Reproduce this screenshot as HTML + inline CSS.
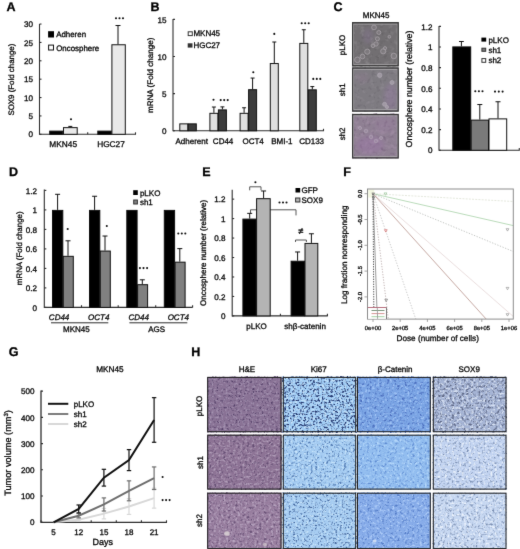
<!DOCTYPE html>
<html><head><meta charset="utf-8"><title>Figure</title>
<style>
html,body{margin:0;padding:0;background:#fff;}
body{width:520px;height:549px;overflow:hidden;}
svg{display:block;font-family:"Liberation Sans", sans-serif;}
#wrap{width:520px;height:549px;will-change:transform;}
svg text{stroke:#000;stroke-width:0.3px;text-rendering:geometricPrecision;}
</style></head>
<body>
<div id="wrap">
<svg width="520" height="549" viewBox="0 0 520 549">
<defs><filter id="soft" x="0" y="0" width="100%" height="100%" color-interpolation-filters="sRGB"><feConvolveMatrix order="3" kernelMatrix="1 10 1 10 100 10 1 10 1" edgeMode="duplicate"/></filter><clipPath id="fclip"><rect x="367.5" y="189" width="145.8" height="130.1"/></clipPath><filter id="blur2" x="-50%" y="-50%" width="200%" height="200%"><feGaussianBlur stdDeviation="2.5"/></filter><filter id="blur05" x="-10%" y="-10%" width="120%" height="120%"><feGaussianBlur stdDeviation="0.6"/></filter><filter id="h00d" x="0" y="0" width="100%" height="100%" color-interpolation-filters="sRGB"><feTurbulence type="fractalNoise" baseFrequency="0.42" numOctaves="3" seed="3"/><feColorMatrix type="matrix" values="0 0 0 0 0.333 0 0 0 0 0.255 0 0 0 0 0.412 4.0 0 0 0 -2.2"/></filter><filter id="h00l" x="0" y="0" width="100%" height="100%" color-interpolation-filters="sRGB"><feTurbulence type="fractalNoise" baseFrequency="0.42" numOctaves="2" seed="53"/><feColorMatrix type="matrix" values="0 0 0 0 0.647 0 0 0 0 0.580 0 0 0 0 0.698 3.0 0 0 0 -1.45"/></filter><filter id="h01d" x="0" y="0" width="100%" height="100%" color-interpolation-filters="sRGB"><feTurbulence type="fractalNoise" baseFrequency="0.42" numOctaves="3" seed="14"/><feColorMatrix type="matrix" values="0 0 0 0 0.392 0 0 0 0 0.306 0 0 0 0 0.451 4.0 0 0 0 -2.15"/></filter><filter id="h01l" x="0" y="0" width="100%" height="100%" color-interpolation-filters="sRGB"><feTurbulence type="fractalNoise" baseFrequency="0.42" numOctaves="2" seed="64"/><feColorMatrix type="matrix" values="0 0 0 0 0.698 0 0 0 0 0.627 0 0 0 0 0.729 3.0 0 0 0 -1.45"/></filter><filter id="h02d" x="0" y="0" width="100%" height="100%" color-interpolation-filters="sRGB"><feTurbulence type="fractalNoise" baseFrequency="0.42" numOctaves="3" seed="25"/><feColorMatrix type="matrix" values="0 0 0 0 0.424 0 0 0 0 0.333 0 0 0 0 0.478 4.0 0 0 0 -2.15"/></filter><filter id="h02l" x="0" y="0" width="100%" height="100%" color-interpolation-filters="sRGB"><feTurbulence type="fractalNoise" baseFrequency="0.42" numOctaves="2" seed="75"/><feColorMatrix type="matrix" values="0 0 0 0 0.729 0 0 0 0 0.659 0 0 0 0 0.761 3.0 0 0 0 -1.45"/></filter><filter id="h10d" x="0" y="0" width="100%" height="100%" color-interpolation-filters="sRGB"><feTurbulence type="fractalNoise" baseFrequency="0.45" numOctaves="3" seed="5"/><feColorMatrix type="matrix" values="0 0 0 0 0.157 0 0 0 0 0.235 0 0 0 0 0.451 4.5 0 0 0 -2.15"/></filter><filter id="h10l" x="0" y="0" width="100%" height="100%" color-interpolation-filters="sRGB"><feTurbulence type="fractalNoise" baseFrequency="0.45" numOctaves="2" seed="55"/><feColorMatrix type="matrix" values="0 0 0 0 0.784 0 0 0 0 0.894 0 0 0 0 0.980 4.0 0 0 0 -2.0"/></filter><filter id="h11d" x="0" y="0" width="100%" height="100%" color-interpolation-filters="sRGB"><feTurbulence type="fractalNoise" baseFrequency="0.45" numOctaves="3" seed="16"/><feColorMatrix type="matrix" values="0 0 0 0 0.333 0 0 0 0 0.490 0 0 0 0 0.706 4.0 0 0 0 -2.1"/></filter><filter id="h11l" x="0" y="0" width="100%" height="100%" color-interpolation-filters="sRGB"><feTurbulence type="fractalNoise" baseFrequency="0.45" numOctaves="2" seed="66"/><feColorMatrix type="matrix" values="0 0 0 0 0.784 0 0 0 0 0.894 0 0 0 0 0.980 4.0 0 0 0 -2.1"/></filter><filter id="h12d" x="0" y="0" width="100%" height="100%" color-interpolation-filters="sRGB"><feTurbulence type="fractalNoise" baseFrequency="0.45" numOctaves="3" seed="27"/><feColorMatrix type="matrix" values="0 0 0 0 0.275 0 0 0 0 0.412 0 0 0 0 0.627 4.0 0 0 0 -2.1"/></filter><filter id="h12l" x="0" y="0" width="100%" height="100%" color-interpolation-filters="sRGB"><feTurbulence type="fractalNoise" baseFrequency="0.45" numOctaves="2" seed="77"/><feColorMatrix type="matrix" values="0 0 0 0 0.784 0 0 0 0 0.894 0 0 0 0 0.980 4.0 0 0 0 -2.1"/></filter><filter id="h20d" x="0" y="0" width="100%" height="100%" color-interpolation-filters="sRGB"><feTurbulence type="fractalNoise" baseFrequency="0.4" numOctaves="3" seed="7"/><feColorMatrix type="matrix" values="0 0 0 0 0.294 0 0 0 0 0.431 0 0 0 0 0.745 4.0 0 0 0 -2.1"/></filter><filter id="h20l" x="0" y="0" width="100%" height="100%" color-interpolation-filters="sRGB"><feTurbulence type="fractalNoise" baseFrequency="0.4" numOctaves="2" seed="57"/><feColorMatrix type="matrix" values="0 0 0 0 0.627 0 0 0 0 0.765 0 0 0 0 0.961 4.0 0 0 0 -2.1"/></filter><filter id="h21d" x="0" y="0" width="100%" height="100%" color-interpolation-filters="sRGB"><feTurbulence type="fractalNoise" baseFrequency="0.4" numOctaves="3" seed="18"/><feColorMatrix type="matrix" values="0 0 0 0 0.373 0 0 0 0 0.549 0 0 0 0 0.824 4.0 0 0 0 -2.15"/></filter><filter id="h21l" x="0" y="0" width="100%" height="100%" color-interpolation-filters="sRGB"><feTurbulence type="fractalNoise" baseFrequency="0.4" numOctaves="2" seed="68"/><feColorMatrix type="matrix" values="0 0 0 0 0.706 0 0 0 0 0.843 0 0 0 0 0.980 4.0 0 0 0 -2.1"/></filter><filter id="h22d" x="0" y="0" width="100%" height="100%" color-interpolation-filters="sRGB"><feTurbulence type="fractalNoise" baseFrequency="0.4" numOctaves="3" seed="29"/><feColorMatrix type="matrix" values="0 0 0 0 0.333 0 0 0 0 0.490 0 0 0 0 0.784 4.0 0 0 0 -2.15"/></filter><filter id="h22l" x="0" y="0" width="100%" height="100%" color-interpolation-filters="sRGB"><feTurbulence type="fractalNoise" baseFrequency="0.4" numOctaves="2" seed="79"/><feColorMatrix type="matrix" values="0 0 0 0 0.686 0 0 0 0 0.804 0 0 0 0 0.973 4.0 0 0 0 -2.1"/></filter><filter id="h30d" x="0" y="0" width="100%" height="100%" color-interpolation-filters="sRGB"><feTurbulence type="fractalNoise" baseFrequency="0.42" numOctaves="3" seed="9"/><feColorMatrix type="matrix" values="0 0 0 0 0.373 0 0 0 0 0.412 0 0 0 0 0.529 4.0 0 0 0 -1.95"/></filter><filter id="h30l" x="0" y="0" width="100%" height="100%" color-interpolation-filters="sRGB"><feTurbulence type="fractalNoise" baseFrequency="0.42" numOctaves="2" seed="59"/><feColorMatrix type="matrix" values="0 0 0 0 0.843 0 0 0 0 0.882 0 0 0 0 0.949 4.0 0 0 0 -2.0"/></filter><filter id="h31d" x="0" y="0" width="100%" height="100%" color-interpolation-filters="sRGB"><feTurbulence type="fractalNoise" baseFrequency="0.42" numOctaves="3" seed="20"/><feColorMatrix type="matrix" values="0 0 0 0 0.490 0 0 0 0 0.569 0 0 0 0 0.706 4.0 0 0 0 -2.1"/></filter><filter id="h31l" x="0" y="0" width="100%" height="100%" color-interpolation-filters="sRGB"><feTurbulence type="fractalNoise" baseFrequency="0.42" numOctaves="2" seed="70"/><feColorMatrix type="matrix" values="0 0 0 0 0.910 0 0 0 0 0.941 0 0 0 0 0.980 4.0 0 0 0 -2.1"/></filter><filter id="h32d" x="0" y="0" width="100%" height="100%" color-interpolation-filters="sRGB"><feTurbulence type="fractalNoise" baseFrequency="0.42" numOctaves="3" seed="31"/><feColorMatrix type="matrix" values="0 0 0 0 0.490 0 0 0 0 0.569 0 0 0 0 0.706 4.0 0 0 0 -2.1"/></filter><filter id="h32l" x="0" y="0" width="100%" height="100%" color-interpolation-filters="sRGB"><feTurbulence type="fractalNoise" baseFrequency="0.42" numOctaves="2" seed="81"/><feColorMatrix type="matrix" values="0 0 0 0 0.922 0 0 0 0 0.949 0 0 0 0 0.988 4.0 0 0 0 -2.1"/></filter><filter id="c1" x="0" y="0" width="100%" height="100%" color-interpolation-filters="sRGB"><feTurbulence type="fractalNoise" baseFrequency="0.25" numOctaves="3" seed="20"/><feColorMatrix type="matrix" values="0 0 0 0 0.373 0 0 0 0 0.361 0 0 0 0 0.373 2.0 0 0 0 -1.1"/></filter><filter id="c1l" x="0" y="0" width="100%" height="100%" color-interpolation-filters="sRGB"><feTurbulence type="fractalNoise" baseFrequency="0.2" numOctaves="3" seed="40"/><feColorMatrix type="matrix" values="0 0 0 0 0.549 0 0 0 0 0.537 0 0 0 0 0.549 2.0 0 0 0 -1.1"/></filter><filter id="c2" x="0" y="0" width="100%" height="100%" color-interpolation-filters="sRGB"><feTurbulence type="fractalNoise" baseFrequency="0.25" numOctaves="3" seed="21"/><feColorMatrix type="matrix" values="0 0 0 0 0.392 0 0 0 0 0.376 0 0 0 0 0.408 2.0 0 0 0 -1.1"/></filter><filter id="c2l" x="0" y="0" width="100%" height="100%" color-interpolation-filters="sRGB"><feTurbulence type="fractalNoise" baseFrequency="0.2" numOctaves="3" seed="41"/><feColorMatrix type="matrix" values="0 0 0 0 0.569 0 0 0 0 0.549 0 0 0 0 0.580 2.0 0 0 0 -1.1"/></filter><filter id="c3" x="0" y="0" width="100%" height="100%" color-interpolation-filters="sRGB"><feTurbulence type="fractalNoise" baseFrequency="0.25" numOctaves="3" seed="22"/><feColorMatrix type="matrix" values="0 0 0 0 0.451 0 0 0 0 0.373 0 0 0 0 0.471 2.0 0 0 0 -1.05"/></filter><filter id="c3l" x="0" y="0" width="100%" height="100%" color-interpolation-filters="sRGB"><feTurbulence type="fractalNoise" baseFrequency="0.2" numOctaves="3" seed="42"/><feColorMatrix type="matrix" values="0 0 0 0 0.647 0 0 0 0 0.569 0 0 0 0 0.659 2.0 0 0 0 -1.05"/></filter></defs>
<g filter="url(#soft)">
<rect width="520" height="549" fill="#fff"/>
<text x="6.50" y="10.80" font-size="12.5" text-anchor="start" fill="#000" font-weight="bold">A</text>
<line x1="39.50" y1="24.00" x2="39.50" y2="134.80" stroke="#2e2e2e" stroke-width="1.1"/>
<line x1="39.50" y1="134.30" x2="41.50" y2="134.30" stroke="#2e2e2e" stroke-width="1.1"/>
<text x="33.00" y="137.49" font-size="8.1" text-anchor="end" fill="#111">0</text>
<line x1="39.50" y1="115.93" x2="41.50" y2="115.93" stroke="#2e2e2e" stroke-width="1.1"/>
<text x="33.00" y="119.11" font-size="8.1" text-anchor="end" fill="#111">5</text>
<line x1="39.50" y1="97.55" x2="41.50" y2="97.55" stroke="#2e2e2e" stroke-width="1.1"/>
<text x="33.00" y="100.74" font-size="8.1" text-anchor="end" fill="#111">10</text>
<line x1="39.50" y1="79.18" x2="41.50" y2="79.18" stroke="#2e2e2e" stroke-width="1.1"/>
<text x="33.00" y="82.36" font-size="8.1" text-anchor="end" fill="#111">15</text>
<line x1="39.50" y1="60.80" x2="41.50" y2="60.80" stroke="#2e2e2e" stroke-width="1.1"/>
<text x="33.00" y="63.99" font-size="8.1" text-anchor="end" fill="#111">20</text>
<line x1="39.50" y1="42.43" x2="41.50" y2="42.43" stroke="#2e2e2e" stroke-width="1.1"/>
<text x="33.00" y="45.61" font-size="8.1" text-anchor="end" fill="#111">25</text>
<line x1="39.50" y1="24.05" x2="41.50" y2="24.05" stroke="#2e2e2e" stroke-width="1.1"/>
<text x="33.00" y="27.24" font-size="8.1" text-anchor="end" fill="#111">30</text>
<line x1="39.50" y1="134.30" x2="136.00" y2="134.30" stroke="#2e2e2e" stroke-width="1.1"/>
<line x1="87.70" y1="134.30" x2="87.70" y2="132.30" stroke="#2e2e2e" stroke-width="1.1"/>
<line x1="135.50" y1="134.30" x2="135.50" y2="132.30" stroke="#2e2e2e" stroke-width="1.1"/>
<rect x="49.70" y="131.12" width="13.00" height="3.18" fill="#000" stroke="#111" stroke-width="1"/>
<rect x="63.50" y="127.63" width="13.70" height="6.67" fill="#e9e9e9" stroke="#111" stroke-width="1"/>
<line x1="70.30" y1="127.13" x2="70.30" y2="126.40" stroke="#111" stroke-width="1"/>
<line x1="68.30" y1="126.40" x2="72.30" y2="126.40" stroke="#111" stroke-width="1"/>
<rect x="97.80" y="131.12" width="13.50" height="3.18" fill="#000" stroke="#111" stroke-width="1"/>
<rect x="111.90" y="44.76" width="13.40" height="89.54" fill="#e9e9e9" stroke="#111" stroke-width="1"/>
<line x1="118.00" y1="44.26" x2="118.00" y2="25.52" stroke="#111" stroke-width="1"/>
<line x1="115.50" y1="25.52" x2="120.50" y2="25.52" stroke="#111" stroke-width="1"/>
<circle cx="71.00" cy="119.30" r="1.05" fill="#111"/>
<circle cx="116.00" cy="18.20" r="1.05" fill="#111"/>
<circle cx="119.50" cy="18.20" r="1.05" fill="#111"/>
<circle cx="123.00" cy="18.20" r="1.05" fill="#111"/>
<rect x="48.10" y="31.20" width="5.90" height="6.30" fill="#000"/>
<text x="56.20" y="37.32" font-size="7.9" text-anchor="start" fill="#111">Adheren</text>
<rect x="48.60" y="45.10" width="4.90" height="4.90" fill="#fff" stroke="#111" stroke-width="1"/>
<text x="56.20" y="50.52" font-size="7.9" text-anchor="start" fill="#111">Oncosphere</text>
<text x="63.20" y="146.66" font-size="8.3" text-anchor="middle" fill="#111">MKN45</text>
<text x="111.00" y="146.66" font-size="8.3" text-anchor="middle" fill="#111">HGC27</text>
<text transform="translate(13.52,79.60) rotate(-90)" font-size="7.9" text-anchor="middle" fill="#111">SOX9 (Fold change)</text>
<text x="150.60" y="10.65" font-size="12.5" text-anchor="start" fill="#000" font-weight="bold">B</text>
<line x1="173.00" y1="19.00" x2="173.00" y2="131.30" stroke="#2e2e2e" stroke-width="1.1"/>
<line x1="173.00" y1="130.80" x2="175.00" y2="130.80" stroke="#2e2e2e" stroke-width="1.1"/>
<text x="166.50" y="133.99" font-size="8.1" text-anchor="end" fill="#111">0</text>
<line x1="173.00" y1="93.65" x2="175.00" y2="93.65" stroke="#2e2e2e" stroke-width="1.1"/>
<text x="166.50" y="96.84" font-size="8.1" text-anchor="end" fill="#111">5</text>
<line x1="173.00" y1="56.50" x2="175.00" y2="56.50" stroke="#2e2e2e" stroke-width="1.1"/>
<text x="166.50" y="59.69" font-size="8.1" text-anchor="end" fill="#111">10</text>
<line x1="173.00" y1="19.35" x2="175.00" y2="19.35" stroke="#2e2e2e" stroke-width="1.1"/>
<text x="166.50" y="22.54" font-size="8.1" text-anchor="end" fill="#111">15</text>
<line x1="173.00" y1="130.80" x2="324.00" y2="130.80" stroke="#2e2e2e" stroke-width="1.1"/>
<line x1="323.50" y1="130.80" x2="323.50" y2="128.80" stroke="#2e2e2e" stroke-width="1.1"/>
<rect x="179.80" y="123.87" width="8.00" height="6.93" fill="#e0e0e0" stroke="#111" stroke-width="1"/>
<rect x="188.30" y="123.87" width="8.00" height="6.93" fill="#3c3c3c" stroke="#111" stroke-width="1"/>
<rect x="209.90" y="113.32" width="8.00" height="17.48" fill="#e0e0e0" stroke="#111" stroke-width="1"/>
<line x1="213.90" y1="112.82" x2="213.90" y2="107.02" stroke="#111" stroke-width="1"/>
<line x1="211.90" y1="107.02" x2="215.90" y2="107.02" stroke="#111" stroke-width="1"/>
<rect x="218.40" y="109.90" width="8.00" height="20.90" fill="#3c3c3c" stroke="#111" stroke-width="1"/>
<line x1="222.40" y1="109.40" x2="222.40" y2="106.88" stroke="#111" stroke-width="1"/>
<line x1="220.40" y1="106.88" x2="224.40" y2="106.88" stroke="#111" stroke-width="1"/>
<rect x="240.10" y="113.32" width="8.00" height="17.48" fill="#e0e0e0" stroke="#111" stroke-width="1"/>
<line x1="244.10" y1="112.82" x2="244.10" y2="107.77" stroke="#111" stroke-width="1"/>
<line x1="242.10" y1="107.77" x2="246.10" y2="107.77" stroke="#111" stroke-width="1"/>
<rect x="248.60" y="89.69" width="8.00" height="41.11" fill="#3c3c3c" stroke="#111" stroke-width="1"/>
<line x1="252.60" y1="89.19" x2="252.60" y2="78.05" stroke="#111" stroke-width="1"/>
<line x1="250.60" y1="78.05" x2="254.60" y2="78.05" stroke="#111" stroke-width="1"/>
<rect x="270.30" y="63.54" width="8.00" height="67.26" fill="#e0e0e0" stroke="#111" stroke-width="1"/>
<line x1="274.30" y1="63.04" x2="274.30" y2="42.01" stroke="#111" stroke-width="1"/>
<line x1="272.30" y1="42.01" x2="276.30" y2="42.01" stroke="#111" stroke-width="1"/>
<rect x="299.80" y="43.40" width="8.00" height="87.40" fill="#e0e0e0" stroke="#111" stroke-width="1"/>
<line x1="303.80" y1="42.90" x2="303.80" y2="29.75" stroke="#111" stroke-width="1"/>
<line x1="301.80" y1="29.75" x2="305.80" y2="29.75" stroke="#111" stroke-width="1"/>
<rect x="308.30" y="89.84" width="8.00" height="40.96" fill="#3c3c3c" stroke="#111" stroke-width="1"/>
<line x1="312.30" y1="89.34" x2="312.30" y2="86.59" stroke="#111" stroke-width="1"/>
<line x1="310.30" y1="86.59" x2="314.30" y2="86.59" stroke="#111" stroke-width="1"/>
<circle cx="213.50" cy="99.80" r="1.05" fill="#111"/>
<circle cx="220.70" cy="100.10" r="1.05" fill="#111"/>
<circle cx="224.20" cy="100.10" r="1.05" fill="#111"/>
<circle cx="227.70" cy="100.10" r="1.05" fill="#111"/>
<circle cx="253.30" cy="72.20" r="1.05" fill="#111"/>
<circle cx="274.30" cy="33.90" r="1.05" fill="#111"/>
<circle cx="301.70" cy="23.30" r="1.05" fill="#111"/>
<circle cx="305.20" cy="23.30" r="1.05" fill="#111"/>
<circle cx="308.70" cy="23.30" r="1.05" fill="#111"/>
<circle cx="313.30" cy="78.90" r="1.05" fill="#111"/>
<circle cx="316.80" cy="78.90" r="1.05" fill="#111"/>
<circle cx="320.30" cy="78.90" r="1.05" fill="#111"/>
<rect x="188.20" y="31.80" width="4.10" height="3.80" fill="#fff" stroke="#333" stroke-width="1"/>
<text x="193.40" y="36.45" font-size="8" text-anchor="start" fill="#111">MKN45</text>
<rect x="187.70" y="43.30" width="4.80" height="4.30" fill="#333"/>
<text x="193.40" y="48.15" font-size="8" text-anchor="start" fill="#111">HGC27</text>
<text x="191.70" y="143.75" font-size="8" text-anchor="middle" fill="#111">Adherent</text>
<text x="223.10" y="143.75" font-size="8" text-anchor="middle" fill="#111">CD44</text>
<text x="253.10" y="143.75" font-size="8" text-anchor="middle" fill="#111">OCT4</text>
<text x="281.90" y="143.75" font-size="8" text-anchor="middle" fill="#111">BMI-1</text>
<text x="311.60" y="143.75" font-size="8" text-anchor="middle" fill="#111">CD133</text>
<text transform="translate(152.69,75.30) rotate(-90)" font-size="8.1" text-anchor="middle" fill="#111">mRNA (Fold change)</text>
<text x="333.50" y="10.90" font-size="12.5" text-anchor="start" fill="#000" font-weight="bold">C</text>
<text x="376.20" y="17.75" font-size="8" text-anchor="middle" fill="#111">MKN45</text>
<rect x="352.10" y="22.10" width="46.60" height="44.20" fill="#726f72"/>
<rect x="352.1" y="22.1" width="46.6" height="44.20" filter="url(#c1)"/>
<rect x="352.1" y="22.1" width="46.6" height="44.20" filter="url(#c1l)"/>
<rect x="352.10" y="67.40" width="46.60" height="44.20" fill="#7e7b81"/>
<rect x="352.1" y="67.4" width="46.6" height="44.20" filter="url(#c2)"/>
<rect x="352.1" y="67.4" width="46.6" height="44.20" filter="url(#c2l)"/>
<rect x="352.10" y="113.90" width="46.60" height="44.50" fill="#8f8093"/>
<rect x="352.1" y="113.9" width="46.6" height="44.50" filter="url(#c3)"/>
<rect x="352.1" y="113.9" width="46.6" height="44.50" filter="url(#c3l)"/>
<ellipse cx="368" cy="36" rx="5" ry="8" fill="#9a7fb0" opacity="0.25" filter="url(#blur2)"/>
<ellipse cx="391" cy="97" rx="7" ry="14" fill="#a07fb0" opacity="0.35" filter="url(#blur2)"/>
<ellipse cx="362" cy="78" rx="7" ry="5" fill="#9a7a9a" opacity="0.25" filter="url(#blur2)"/>
<ellipse cx="370" cy="145" rx="14" ry="9" fill="#a070b0" opacity="0.3" filter="url(#blur2)"/>
<ellipse cx="385" cy="125" rx="10" ry="8" fill="#a080a8" opacity="0.25" filter="url(#blur2)"/>
<g filter="url(#blur05)">
<circle cx="374.0" cy="27.4" r="2.4" fill="#9a969a" fill-opacity="0.3" stroke="#a29ca2" stroke-width="0.9"/>
<circle cx="378.8" cy="32.5" r="2.0" fill="#9a969a" fill-opacity="0.3" stroke="#a29ca2" stroke-width="0.9"/>
<circle cx="377.4" cy="38.8" r="2.0" fill="#9a969a" fill-opacity="0.3" stroke="#a29ca2" stroke-width="0.9"/>
<circle cx="376.0" cy="44.0" r="2.2" fill="#9a969a" fill-opacity="0.3" stroke="#a29ca2" stroke-width="0.9"/>
<circle cx="373.0" cy="45.8" r="1.8" fill="#9a969a" fill-opacity="0.3" stroke="#a29ca2" stroke-width="0.9"/>
<circle cx="367.3" cy="51.7" r="2.6" fill="#9a969a" fill-opacity="0.3" stroke="#a29ca2" stroke-width="0.9"/>
<circle cx="362.5" cy="56.5" r="2.3" fill="#9a969a" fill-opacity="0.3" stroke="#a29ca2" stroke-width="0.9"/>
<circle cx="357.4" cy="59.8" r="2.8" fill="#9a969a" fill-opacity="0.3" stroke="#a29ca2" stroke-width="0.9"/>
<circle cx="383.2" cy="51.3" r="2.6" fill="#9a969a" fill-opacity="0.3" stroke="#a29ca2" stroke-width="0.9"/>
<circle cx="389.4" cy="36.8" r="1.4" fill="#9a969a" fill-opacity="0.3" stroke="#a29ca2" stroke-width="0.9"/>
<circle cx="393.8" cy="56.0" r="2.8" fill="#9a969a" fill-opacity="0.3" stroke="#a29ca2" stroke-width="0.9"/>
<circle cx="385.0" cy="48.2" r="1.6" fill="#9a969a" fill-opacity="0.3" stroke="#a29ca2" stroke-width="0.9"/>
<circle cx="379.8" cy="75.3" r="2.2" fill="#b4aeb8" fill-opacity="0.6" stroke="#aca4b0" stroke-width="0.8"/>
<circle cx="392.0" cy="82.5" r="2.0" fill="#b4aeb8" fill-opacity="0.6" stroke="#aca4b0" stroke-width="0.8"/>
<circle cx="384.6" cy="104.3" r="2.0" fill="#b4aeb8" fill-opacity="0.6" stroke="#aca4b0" stroke-width="0.8"/>
<circle cx="387.0" cy="107.0" r="1.6" fill="#b4aeb8" fill-opacity="0.6" stroke="#aca4b0" stroke-width="0.8"/>
<circle cx="366" cy="131" r="1.8" fill="#b0a0b4" fill-opacity="0.4" stroke="#b0a2b4" stroke-width="0.7"/>
<circle cx="371" cy="137" r="1.8" fill="#b0a0b4" fill-opacity="0.4" stroke="#b0a2b4" stroke-width="0.7"/>
<circle cx="376" cy="141" r="1.8" fill="#b0a0b4" fill-opacity="0.4" stroke="#b0a2b4" stroke-width="0.7"/>
<circle cx="360" cy="128" r="1.6" fill="#b0a0b4" fill-opacity="0.4" stroke="#b0a2b4" stroke-width="0.7"/>
<circle cx="381" cy="138" r="1.5" fill="#b0a0b4" fill-opacity="0.4" stroke="#b0a2b4" stroke-width="0.7"/>
</g>
<rect x="353.60" y="24.10" width="43.60" height="40.20" fill="none" stroke="#b0aeb0" stroke-width="0.7"/>
<rect x="352.60" y="22.70" width="45.60" height="43.10" fill="none" stroke="#383838" stroke-width="1.2"/>
<rect x="353.60" y="69.40" width="43.60" height="40.20" fill="none" stroke="#b0aeb0" stroke-width="0.7"/>
<rect x="352.60" y="68.00" width="45.60" height="43.10" fill="none" stroke="#383838" stroke-width="1.2"/>
<rect x="353.60" y="115.90" width="43.60" height="40.50" fill="none" stroke="#b0aeb0" stroke-width="0.7"/>
<rect x="352.60" y="114.50" width="45.60" height="43.40" fill="none" stroke="#383838" stroke-width="1.2"/>
<text transform="translate(345.15,45.00) rotate(-90)" font-size="8" text-anchor="middle" fill="#111">pLKO</text>
<text transform="translate(344.95,89.80) rotate(-90)" font-size="8" text-anchor="middle" fill="#111">sh1</text>
<text transform="translate(345.15,133.90) rotate(-90)" font-size="8" text-anchor="middle" fill="#111">sh2</text>
<line x1="439.00" y1="26.00" x2="439.00" y2="150.80" stroke="#2e2e2e" stroke-width="1.1"/>
<line x1="439.00" y1="150.30" x2="441.00" y2="150.30" stroke="#2e2e2e" stroke-width="1.1"/>
<text x="432.50" y="153.49" font-size="8.1" text-anchor="end" fill="#111">0</text>
<line x1="439.00" y1="129.64" x2="441.00" y2="129.64" stroke="#2e2e2e" stroke-width="1.1"/>
<text x="432.50" y="132.83" font-size="8.1" text-anchor="end" fill="#111">0.2</text>
<line x1="439.00" y1="108.98" x2="441.00" y2="108.98" stroke="#2e2e2e" stroke-width="1.1"/>
<text x="432.50" y="112.17" font-size="8.1" text-anchor="end" fill="#111">0.4</text>
<line x1="439.00" y1="88.32" x2="441.00" y2="88.32" stroke="#2e2e2e" stroke-width="1.1"/>
<text x="432.50" y="91.51" font-size="8.1" text-anchor="end" fill="#111">0.6</text>
<line x1="439.00" y1="67.66" x2="441.00" y2="67.66" stroke="#2e2e2e" stroke-width="1.1"/>
<text x="432.50" y="70.85" font-size="8.1" text-anchor="end" fill="#111">0.8</text>
<line x1="439.00" y1="47.00" x2="441.00" y2="47.00" stroke="#2e2e2e" stroke-width="1.1"/>
<text x="432.50" y="50.19" font-size="8.1" text-anchor="end" fill="#111">1</text>
<line x1="439.00" y1="26.34" x2="441.00" y2="26.34" stroke="#2e2e2e" stroke-width="1.1"/>
<text x="432.50" y="29.53" font-size="8.1" text-anchor="end" fill="#111">1.2</text>
<line x1="439.00" y1="150.30" x2="519.80" y2="150.30" stroke="#2e2e2e" stroke-width="1.1"/>
<line x1="519.30" y1="150.30" x2="519.30" y2="148.10" stroke="#2e2e2e" stroke-width="1.1"/>
<rect x="452.80" y="46.90" width="17.90" height="103.40" fill="#000" stroke="#111" stroke-width="1"/>
<line x1="461.40" y1="46.40" x2="461.40" y2="41.50" stroke="#111" stroke-width="1"/>
<line x1="459.00" y1="41.50" x2="463.80" y2="41.50" stroke="#111" stroke-width="1"/>
<rect x="471.20" y="120.12" width="17.30" height="30.18" fill="#7a7a7a" stroke="#111" stroke-width="1"/>
<line x1="479.80" y1="119.62" x2="479.80" y2="104.54" stroke="#111" stroke-width="1"/>
<line x1="477.30" y1="104.54" x2="482.30" y2="104.54" stroke="#111" stroke-width="1"/>
<rect x="489.00" y="118.88" width="17.70" height="31.42" fill="#fff" stroke="#111" stroke-width="1"/>
<line x1="498.00" y1="118.38" x2="498.00" y2="101.75" stroke="#111" stroke-width="1"/>
<line x1="495.50" y1="101.75" x2="500.50" y2="101.75" stroke="#111" stroke-width="1"/>
<circle cx="475.30" cy="91.30" r="1.05" fill="#111"/>
<circle cx="478.90" cy="91.30" r="1.05" fill="#111"/>
<circle cx="482.50" cy="91.30" r="1.05" fill="#111"/>
<circle cx="495.00" cy="91.60" r="1.05" fill="#111"/>
<circle cx="498.80" cy="91.60" r="1.05" fill="#111"/>
<circle cx="502.60" cy="91.60" r="1.05" fill="#111"/>
<rect x="481.40" y="37.60" width="4.80" height="4.00" fill="#000"/>
<text x="488.40" y="42.55" font-size="8" text-anchor="start" fill="#111">pLKO</text>
<rect x="481.90" y="48.20" width="3.80" height="3.10" fill="#7a7a7a" stroke="#333" stroke-width="1"/>
<text x="488.40" y="52.55" font-size="8" text-anchor="start" fill="#111">sh1</text>
<rect x="481.90" y="58.60" width="3.80" height="3.70" fill="#fff" stroke="#333" stroke-width="1"/>
<text x="488.40" y="62.85" font-size="8" text-anchor="start" fill="#111">sh2</text>
<text transform="translate(411.83,89.00) rotate(-90)" font-size="8.8" text-anchor="middle" fill="#111">Oncosphere number (relative)</text>
<text x="8.90" y="176.20" font-size="12.5" text-anchor="start" fill="#000" font-weight="bold">D</text>
<line x1="44.30" y1="189.50" x2="44.30" y2="307.90" stroke="#2e2e2e" stroke-width="1.1"/>
<line x1="44.30" y1="307.40" x2="46.30" y2="307.40" stroke="#2e2e2e" stroke-width="1.1"/>
<text x="37.00" y="310.59" font-size="8.1" text-anchor="end" fill="#111">0</text>
<line x1="44.30" y1="287.90" x2="46.30" y2="287.90" stroke="#2e2e2e" stroke-width="1.1"/>
<text x="37.00" y="291.09" font-size="8.1" text-anchor="end" fill="#111">0.2</text>
<line x1="44.30" y1="268.40" x2="46.30" y2="268.40" stroke="#2e2e2e" stroke-width="1.1"/>
<text x="37.00" y="271.59" font-size="8.1" text-anchor="end" fill="#111">0.4</text>
<line x1="44.30" y1="248.90" x2="46.30" y2="248.90" stroke="#2e2e2e" stroke-width="1.1"/>
<text x="37.00" y="252.09" font-size="8.1" text-anchor="end" fill="#111">0.6</text>
<line x1="44.30" y1="229.40" x2="46.30" y2="229.40" stroke="#2e2e2e" stroke-width="1.1"/>
<text x="37.00" y="232.59" font-size="8.1" text-anchor="end" fill="#111">0.8</text>
<line x1="44.30" y1="209.90" x2="46.30" y2="209.90" stroke="#2e2e2e" stroke-width="1.1"/>
<text x="37.00" y="213.09" font-size="8.1" text-anchor="end" fill="#111">1</text>
<line x1="44.30" y1="190.40" x2="46.30" y2="190.40" stroke="#2e2e2e" stroke-width="1.1"/>
<text x="37.00" y="193.59" font-size="8.1" text-anchor="end" fill="#111">1.2</text>
<line x1="44.30" y1="307.40" x2="192.60" y2="307.40" stroke="#2e2e2e" stroke-width="1.1"/>
<line x1="192.60" y1="307.40" x2="192.60" y2="305.20" stroke="#2e2e2e" stroke-width="1.1"/>
<line x1="81.50" y1="307.40" x2="81.50" y2="305.20" stroke="#2e2e2e" stroke-width="1.1"/>
<line x1="118.20" y1="307.40" x2="118.20" y2="305.20" stroke="#2e2e2e" stroke-width="1.1"/>
<line x1="155.70" y1="307.40" x2="155.70" y2="305.20" stroke="#2e2e2e" stroke-width="1.1"/>
<rect x="52.50" y="210.40" width="10.30" height="97.00" fill="#000" stroke="#111" stroke-width="1"/>
<line x1="57.60" y1="209.90" x2="57.60" y2="194.30" stroke="#111" stroke-width="1"/>
<line x1="55.10" y1="194.30" x2="60.10" y2="194.30" stroke="#111" stroke-width="1"/>
<rect x="63.30" y="256.32" width="10.00" height="51.08" fill="#808080" stroke="#111" stroke-width="1"/>
<line x1="68.00" y1="255.82" x2="68.00" y2="240.81" stroke="#111" stroke-width="1"/>
<line x1="65.50" y1="240.81" x2="70.50" y2="240.81" stroke="#111" stroke-width="1"/>
<rect x="89.50" y="210.40" width="10.30" height="97.00" fill="#000" stroke="#111" stroke-width="1"/>
<line x1="94.60" y1="209.90" x2="94.60" y2="196.25" stroke="#111" stroke-width="1"/>
<line x1="92.10" y1="196.25" x2="97.10" y2="196.25" stroke="#111" stroke-width="1"/>
<rect x="100.30" y="251.06" width="10.00" height="56.34" fill="#808080" stroke="#111" stroke-width="1"/>
<line x1="105.00" y1="250.56" x2="105.00" y2="236.03" stroke="#111" stroke-width="1"/>
<line x1="102.50" y1="236.03" x2="107.50" y2="236.03" stroke="#111" stroke-width="1"/>
<rect x="126.80" y="210.40" width="10.30" height="97.00" fill="#000" stroke="#111" stroke-width="1"/>
<rect x="137.60" y="284.69" width="10.00" height="22.70" fill="#808080" stroke="#111" stroke-width="1"/>
<line x1="142.30" y1="284.19" x2="142.30" y2="279.81" stroke="#111" stroke-width="1"/>
<line x1="139.80" y1="279.81" x2="144.80" y2="279.81" stroke="#111" stroke-width="1"/>
<rect x="164.30" y="210.40" width="10.30" height="97.00" fill="#000" stroke="#111" stroke-width="1"/>
<rect x="175.10" y="262.17" width="10.00" height="45.23" fill="#808080" stroke="#111" stroke-width="1"/>
<line x1="179.80" y1="261.67" x2="179.80" y2="248.61" stroke="#111" stroke-width="1"/>
<line x1="177.30" y1="248.61" x2="182.30" y2="248.61" stroke="#111" stroke-width="1"/>
<circle cx="67.70" cy="229.00" r="1.05" fill="#111"/>
<circle cx="106.80" cy="226.00" r="1.05" fill="#111"/>
<circle cx="139.90" cy="268.10" r="1.05" fill="#111"/>
<circle cx="143.50" cy="268.10" r="1.05" fill="#111"/>
<circle cx="147.10" cy="268.10" r="1.05" fill="#111"/>
<circle cx="178.30" cy="233.50" r="1.05" fill="#111"/>
<circle cx="181.80" cy="233.50" r="1.05" fill="#111"/>
<circle cx="185.30" cy="233.50" r="1.05" fill="#111"/>
<rect x="133.20" y="190.20" width="4.60" height="4.80" fill="#000"/>
<text x="139.90" y="195.85" font-size="8" text-anchor="start" fill="#111">pLKO</text>
<rect x="133.70" y="200.00" width="3.70" height="4.00" fill="#808080" stroke="#333" stroke-width="1"/>
<text x="139.90" y="204.65" font-size="8" text-anchor="start" fill="#111">sh1</text>
<text x="59.10" y="319.75" font-size="8" text-anchor="middle" fill="#111" font-style="italic">CD44</text>
<text x="98.70" y="319.75" font-size="8" text-anchor="middle" fill="#111" font-style="italic">OCT4</text>
<text x="138.80" y="319.75" font-size="8" text-anchor="middle" fill="#111" font-style="italic">CD44</text>
<text x="178.30" y="319.75" font-size="8" text-anchor="middle" fill="#111" font-style="italic">OCT4</text>
<line x1="51.00" y1="322.80" x2="108.30" y2="322.80" stroke="#2e2e2e" stroke-width="1.0"/>
<line x1="129.40" y1="322.80" x2="187.30" y2="322.80" stroke="#2e2e2e" stroke-width="1.0"/>
<text x="76.40" y="331.65" font-size="8" text-anchor="middle" fill="#111">MKN45</text>
<text x="156.60" y="332.15" font-size="8" text-anchor="middle" fill="#111">AGS</text>
<text transform="translate(21.62,248.30) rotate(-90)" font-size="7.9" text-anchor="middle" fill="#111">mRNA (Fold change)</text>
<text x="202.20" y="176.20" font-size="12.5" text-anchor="start" fill="#000" font-weight="bold">E</text>
<line x1="232.20" y1="189.80" x2="232.20" y2="316.40" stroke="#2e2e2e" stroke-width="1.1"/>
<line x1="232.20" y1="315.90" x2="234.20" y2="315.90" stroke="#2e2e2e" stroke-width="1.1"/>
<text x="225.50" y="319.09" font-size="8.1" text-anchor="end" fill="#111">0</text>
<line x1="232.20" y1="296.44" x2="234.20" y2="296.44" stroke="#2e2e2e" stroke-width="1.1"/>
<text x="225.50" y="299.63" font-size="8.1" text-anchor="end" fill="#111">0.2</text>
<line x1="232.20" y1="276.98" x2="234.20" y2="276.98" stroke="#2e2e2e" stroke-width="1.1"/>
<text x="225.50" y="280.17" font-size="8.1" text-anchor="end" fill="#111">0.4</text>
<line x1="232.20" y1="257.52" x2="234.20" y2="257.52" stroke="#2e2e2e" stroke-width="1.1"/>
<text x="225.50" y="260.71" font-size="8.1" text-anchor="end" fill="#111">0.6</text>
<line x1="232.20" y1="238.06" x2="234.20" y2="238.06" stroke="#2e2e2e" stroke-width="1.1"/>
<text x="225.50" y="241.25" font-size="8.1" text-anchor="end" fill="#111">0.8</text>
<line x1="232.20" y1="218.60" x2="234.20" y2="218.60" stroke="#2e2e2e" stroke-width="1.1"/>
<text x="225.50" y="221.79" font-size="8.1" text-anchor="end" fill="#111">1</text>
<line x1="232.20" y1="199.14" x2="234.20" y2="199.14" stroke="#2e2e2e" stroke-width="1.1"/>
<text x="225.50" y="202.33" font-size="8.1" text-anchor="end" fill="#111">1.2</text>
<line x1="232.20" y1="315.90" x2="327.80" y2="315.90" stroke="#2e2e2e" stroke-width="1.1"/>
<line x1="280.40" y1="315.90" x2="280.40" y2="313.70" stroke="#2e2e2e" stroke-width="1.1"/>
<line x1="327.40" y1="315.90" x2="327.40" y2="313.70" stroke="#2e2e2e" stroke-width="1.1"/>
<line x1="250.50" y1="209.80" x2="296.00" y2="209.80" stroke="#444" stroke-width="0.9"/>
<line x1="250.50" y1="209.80" x2="250.50" y2="213.50" stroke="#444" stroke-width="0.9"/>
<line x1="296.00" y1="209.80" x2="296.00" y2="215.40" stroke="#444" stroke-width="0.9"/>
<rect x="242.90" y="219.10" width="13.20" height="96.80" fill="#000" stroke="#111" stroke-width="1"/>
<line x1="249.70" y1="218.60" x2="249.70" y2="213.35" stroke="#111" stroke-width="1"/>
<line x1="247.20" y1="213.35" x2="252.20" y2="213.35" stroke="#111" stroke-width="1"/>
<rect x="256.60" y="198.67" width="13.60" height="117.23" fill="#b4b4b4" stroke="#111" stroke-width="1"/>
<line x1="263.60" y1="198.17" x2="263.60" y2="190.97" stroke="#111" stroke-width="1"/>
<line x1="261.10" y1="190.97" x2="266.10" y2="190.97" stroke="#111" stroke-width="1"/>
<rect x="291.10" y="261.23" width="13.40" height="54.67" fill="#000" stroke="#111" stroke-width="1"/>
<line x1="297.60" y1="260.73" x2="297.60" y2="251.97" stroke="#111" stroke-width="1"/>
<line x1="295.10" y1="251.97" x2="300.10" y2="251.97" stroke="#111" stroke-width="1"/>
<rect x="305.00" y="243.42" width="12.80" height="72.47" fill="#b4b4b4" stroke="#111" stroke-width="1"/>
<line x1="311.40" y1="242.92" x2="311.40" y2="233.78" stroke="#111" stroke-width="1"/>
<line x1="308.90" y1="233.78" x2="313.90" y2="233.78" stroke="#111" stroke-width="1"/>
<line x1="249.70" y1="186.80" x2="261.00" y2="186.80" stroke="#444" stroke-width="0.9"/>
<line x1="249.70" y1="186.80" x2="249.70" y2="190.30" stroke="#444" stroke-width="0.9"/>
<line x1="261.00" y1="186.80" x2="261.00" y2="190.30" stroke="#444" stroke-width="0.9"/>
<circle cx="255.40" cy="182.30" r="1.05" fill="#111"/>
<circle cx="279.50" cy="202.50" r="1.05" fill="#111"/>
<circle cx="283.00" cy="202.50" r="1.05" fill="#111"/>
<circle cx="286.50" cy="202.50" r="1.05" fill="#111"/>
<line x1="295.50" y1="240.00" x2="306.40" y2="240.00" stroke="#444" stroke-width="0.9"/>
<line x1="295.50" y1="240.00" x2="295.50" y2="242.00" stroke="#444" stroke-width="0.9"/>
<line x1="306.40" y1="240.00" x2="306.40" y2="242.00" stroke="#444" stroke-width="0.9"/>
<text x="300.80" y="233.92" font-size="8.5" text-anchor="middle" fill="#111" font-weight="bold">≠</text>
<rect x="295.50" y="188.00" width="4.70" height="4.50" fill="#000"/>
<text x="301.50" y="193.05" font-size="8" text-anchor="start" fill="#111">GFP</text>
<rect x="295.60" y="198.00" width="4.30" height="4.00" fill="#b4b4b4" stroke="#333" stroke-width="1"/>
<text x="301.50" y="202.95" font-size="8" text-anchor="start" fill="#111">SOX9</text>
<text x="256.60" y="329.25" font-size="8" text-anchor="middle" fill="#111">pLKO</text>
<text x="305.10" y="329.25" font-size="8" text-anchor="middle" fill="#111">shβ-catenin</text>
<text transform="translate(206.35,252.90) rotate(-90)" font-size="8" text-anchor="middle" fill="#111">Oncosphere number (relative)</text>
<text x="343.30" y="176.20" font-size="12.5" text-anchor="start" fill="#000" font-weight="bold">F</text>
<rect x="368.2" y="189.6" width="6" height="8" fill="#f3f7e2"/>
<g clip-path="url(#fclip)">
<line x1="373.00" y1="193.70" x2="793.90" y2="217.10" stroke="#dde2d4" stroke-width="0.8" stroke-dasharray="2,1.2"/>
<line x1="373.00" y1="193.70" x2="793.90" y2="289.40" stroke="#a8d2a8" stroke-width="0.8"/>
<line x1="373.00" y1="193.70" x2="793.90" y2="367.10" stroke="#b4b8b4" stroke-width="0.8" stroke-dasharray="1.3,1.5"/>
<line x1="373.00" y1="193.70" x2="793.90" y2="562.10" stroke="#e4d6d6" stroke-width="0.8"/>
<line x1="373.00" y1="193.70" x2="712.60" y2="569.90" stroke="#bc9a92" stroke-width="0.85"/>
<line x1="373.00" y1="193.70" x2="501.40" y2="569.90" stroke="#bcbcbc" stroke-width="0.8" stroke-dasharray="1.3,1.5"/>
<line x1="373.00" y1="193.70" x2="412.00" y2="512.60" stroke="#b0a0a0" stroke-width="0.8" stroke-dasharray="1.2,1.5"/>
<line x1="373.00" y1="193.70" x2="385.90" y2="569.90" stroke="#8e8e8e" stroke-width="0.9"/>
<line x1="373.00" y1="193.70" x2="375.70" y2="569.90" stroke="#444444" stroke-width="1.0" stroke-dasharray="1.2,1.3"/>
</g>
<rect x="367.50" y="189.00" width="145.80" height="130.10" fill="none" stroke="#8c8c8c" stroke-width="1"/>
<rect x="368.00" y="307.60" width="18.30" height="11.20" fill="#fff"/>
<line x1="367.80" y1="307.50" x2="386.60" y2="307.50" stroke="#b06070" stroke-width="0.9"/>
<line x1="386.50" y1="307.50" x2="386.50" y2="319.00" stroke="#6a6a6a" stroke-width="0.9"/>
<line x1="371.50" y1="310.50" x2="384.50" y2="310.50" stroke="#6e8a6e" stroke-width="0.9"/>
<line x1="371.50" y1="313.60" x2="384.50" y2="313.60" stroke="#d08888" stroke-width="0.9"/>
<line x1="371.50" y1="316.70" x2="384.50" y2="316.70" stroke="#98cc98" stroke-width="0.9"/>
<line x1="377.30" y1="307.60" x2="377.60" y2="318.80" stroke="#9a9a9a" stroke-width="0.9"/>
<path d="M384.8,299.2 L387.6,299.2 L386.2,301.6 Z" fill="none" stroke="#666" stroke-width="0.6"/>
<path d="M506.1,228.7 L508.9,228.7 L507.5,231.1 Z" fill="none" stroke="#888" stroke-width="0.6"/>
<path d="M506.1,287.4 L508.9,287.4 L507.5,289.8 Z" fill="none" stroke="#888" stroke-width="0.6"/>
<path d="M506.1,313.7 L508.9,313.7 L507.5,316.1 Z" fill="none" stroke="#888" stroke-width="0.6"/>
<path d="M384.4,229.7 L387.2,229.7 L385.8,232.1 Z" fill="none" stroke="#c55" stroke-width="0.6"/>
<path d="M384.1,192.9 L386.9,192.9 L385.5,195.3 Z" fill="none" stroke="#8b8" stroke-width="0.6"/>
<path d="M371.9,192.9 L374.7,192.9 L373.3,195.3 Z" fill="none" stroke="#777" stroke-width="0.6"/>
<path d="M372.2,196.9 L375.0,196.9 L373.6,199.3 Z" fill="none" stroke="#666" stroke-width="0.6"/>
<line x1="364.50" y1="193.70" x2="367.50" y2="193.70" stroke="#8c8c8c" stroke-width="0.8"/>
<text transform="translate(362.00,193.70) rotate(-90)" font-size="5.8" text-anchor="middle" fill="#333">0.0</text>
<line x1="364.50" y1="219.50" x2="367.50" y2="219.50" stroke="#8c8c8c" stroke-width="0.8"/>
<text transform="translate(362.00,219.50) rotate(-90)" font-size="5.8" text-anchor="middle" fill="#333">-0.5</text>
<line x1="364.50" y1="245.30" x2="367.50" y2="245.30" stroke="#8c8c8c" stroke-width="0.8"/>
<text transform="translate(362.00,245.30) rotate(-90)" font-size="5.8" text-anchor="middle" fill="#333">-1.0</text>
<line x1="364.50" y1="271.10" x2="367.50" y2="271.10" stroke="#8c8c8c" stroke-width="0.8"/>
<text transform="translate(362.00,271.10) rotate(-90)" font-size="5.8" text-anchor="middle" fill="#333">-1.5</text>
<line x1="364.50" y1="296.90" x2="367.50" y2="296.90" stroke="#8c8c8c" stroke-width="0.8"/>
<text transform="translate(362.00,296.90) rotate(-90)" font-size="5.8" text-anchor="middle" fill="#333">-2.0</text>
<line x1="373.00" y1="319.10" x2="373.00" y2="321.90" stroke="#8c8c8c" stroke-width="0.8"/>
<text x="373.00" y="329.80" font-size="5.8" text-anchor="middle" fill="#333">0e+00</text>
<line x1="400.20" y1="319.10" x2="400.20" y2="321.90" stroke="#8c8c8c" stroke-width="0.8"/>
<text x="400.20" y="329.80" font-size="5.8" text-anchor="middle" fill="#333">2e+05</text>
<line x1="427.40" y1="319.10" x2="427.40" y2="321.90" stroke="#8c8c8c" stroke-width="0.8"/>
<text x="427.40" y="329.80" font-size="5.8" text-anchor="middle" fill="#333">4e+05</text>
<line x1="454.60" y1="319.10" x2="454.60" y2="321.90" stroke="#8c8c8c" stroke-width="0.8"/>
<text x="454.60" y="329.80" font-size="5.8" text-anchor="middle" fill="#333">6e+05</text>
<line x1="481.80" y1="319.10" x2="481.80" y2="321.90" stroke="#8c8c8c" stroke-width="0.8"/>
<text x="481.80" y="329.80" font-size="5.8" text-anchor="middle" fill="#333">8e+05</text>
<line x1="509.00" y1="319.10" x2="509.00" y2="321.90" stroke="#8c8c8c" stroke-width="0.8"/>
<text x="509.00" y="329.80" font-size="5.8" text-anchor="middle" fill="#333">1e+06</text>
<text x="437.70" y="340.82" font-size="8.2" text-anchor="middle" fill="#222">Dose (number of cells)</text>
<text transform="translate(347.00,254.80) rotate(-90)" font-size="8.15" text-anchor="middle" fill="#222">Log fraction nonresponding</text>
<text x="8.80" y="356.30" font-size="12.5" text-anchor="start" fill="#000" font-weight="bold">G</text>
<text x="109.90" y="372.42" font-size="8.2" text-anchor="middle" fill="#111">MKN45</text>
<line x1="41.00" y1="390.50" x2="41.00" y2="523.10" stroke="#2e2e2e" stroke-width="1.3"/>
<line x1="41.00" y1="522.30" x2="43.00" y2="522.30" stroke="#2e2e2e" stroke-width="1.1"/>
<text x="34.50" y="525.49" font-size="8.1" text-anchor="end" fill="#111">0</text>
<line x1="41.00" y1="496.06" x2="43.00" y2="496.06" stroke="#2e2e2e" stroke-width="1.1"/>
<text x="34.50" y="499.25" font-size="8.1" text-anchor="end" fill="#111">100</text>
<line x1="41.00" y1="469.82" x2="43.00" y2="469.82" stroke="#2e2e2e" stroke-width="1.1"/>
<text x="34.50" y="473.01" font-size="8.1" text-anchor="end" fill="#111">200</text>
<line x1="41.00" y1="443.58" x2="43.00" y2="443.58" stroke="#2e2e2e" stroke-width="1.1"/>
<text x="34.50" y="446.77" font-size="8.1" text-anchor="end" fill="#111">300</text>
<line x1="41.00" y1="417.34" x2="43.00" y2="417.34" stroke="#2e2e2e" stroke-width="1.1"/>
<text x="34.50" y="420.53" font-size="8.1" text-anchor="end" fill="#111">400</text>
<line x1="41.00" y1="391.10" x2="43.00" y2="391.10" stroke="#2e2e2e" stroke-width="1.1"/>
<text x="34.50" y="394.29" font-size="8.1" text-anchor="end" fill="#111">500</text>
<line x1="41.00" y1="522.30" x2="167.00" y2="522.30" stroke="#2e2e2e" stroke-width="1.3"/>
<line x1="41.00" y1="522.30" x2="41.00" y2="520.30" stroke="#2e2e2e" stroke-width="1.1"/>
<line x1="66.10" y1="522.30" x2="66.10" y2="520.30" stroke="#2e2e2e" stroke-width="1.1"/>
<line x1="91.20" y1="522.30" x2="91.20" y2="520.30" stroke="#2e2e2e" stroke-width="1.1"/>
<line x1="116.30" y1="522.30" x2="116.30" y2="520.30" stroke="#2e2e2e" stroke-width="1.1"/>
<line x1="141.40" y1="522.30" x2="141.40" y2="520.30" stroke="#2e2e2e" stroke-width="1.1"/>
<line x1="166.50" y1="522.30" x2="166.50" y2="520.30" stroke="#2e2e2e" stroke-width="1.1"/>
<polyline points="53.60,522.30 78.70,519.68 103.90,513.64 129.00,506.56 154.10,498.16" fill="none" stroke="#d8d8d8" stroke-width="2.0"/>
<line x1="78.70" y1="520.99" x2="78.70" y2="518.36" stroke="#d8d8d8" stroke-width="1.2"/>
<line x1="76.50" y1="518.36" x2="80.90" y2="518.36" stroke="#d8d8d8" stroke-width="1.2"/>
<line x1="76.50" y1="520.99" x2="80.90" y2="520.99" stroke="#d8d8d8" stroke-width="1.2"/>
<line x1="103.90" y1="518.89" x2="103.90" y2="508.39" stroke="#d8d8d8" stroke-width="1.2"/>
<line x1="101.70" y1="508.39" x2="106.10" y2="508.39" stroke="#d8d8d8" stroke-width="1.2"/>
<line x1="101.70" y1="518.89" x2="106.10" y2="518.89" stroke="#d8d8d8" stroke-width="1.2"/>
<line x1="129.00" y1="514.43" x2="129.00" y2="498.68" stroke="#d8d8d8" stroke-width="1.2"/>
<line x1="126.80" y1="498.68" x2="131.20" y2="498.68" stroke="#d8d8d8" stroke-width="1.2"/>
<line x1="126.80" y1="514.43" x2="131.20" y2="514.43" stroke="#d8d8d8" stroke-width="1.2"/>
<line x1="154.10" y1="508.13" x2="154.10" y2="488.19" stroke="#d8d8d8" stroke-width="1.2"/>
<line x1="151.90" y1="488.19" x2="156.30" y2="488.19" stroke="#d8d8d8" stroke-width="1.2"/>
<line x1="151.90" y1="508.13" x2="156.30" y2="508.13" stroke="#d8d8d8" stroke-width="1.2"/>
<polyline points="53.60,522.30 78.70,515.74 103.90,504.46 129.00,490.81 154.10,478.22" fill="none" stroke="#6e6e6e" stroke-width="2.0"/>
<line x1="78.70" y1="517.84" x2="78.70" y2="513.64" stroke="#6e6e6e" stroke-width="1.2"/>
<line x1="76.50" y1="513.64" x2="80.90" y2="513.64" stroke="#6e6e6e" stroke-width="1.2"/>
<line x1="76.50" y1="517.84" x2="80.90" y2="517.84" stroke="#6e6e6e" stroke-width="1.2"/>
<line x1="103.90" y1="511.02" x2="103.90" y2="497.90" stroke="#6e6e6e" stroke-width="1.2"/>
<line x1="101.70" y1="497.90" x2="106.10" y2="497.90" stroke="#6e6e6e" stroke-width="1.2"/>
<line x1="101.70" y1="511.02" x2="106.10" y2="511.02" stroke="#6e6e6e" stroke-width="1.2"/>
<line x1="129.00" y1="500.78" x2="129.00" y2="480.84" stroke="#6e6e6e" stroke-width="1.2"/>
<line x1="126.80" y1="480.84" x2="131.20" y2="480.84" stroke="#6e6e6e" stroke-width="1.2"/>
<line x1="126.80" y1="500.78" x2="131.20" y2="500.78" stroke="#6e6e6e" stroke-width="1.2"/>
<line x1="154.10" y1="489.50" x2="154.10" y2="466.93" stroke="#6e6e6e" stroke-width="1.2"/>
<line x1="151.90" y1="466.93" x2="156.30" y2="466.93" stroke="#6e6e6e" stroke-width="1.2"/>
<line x1="151.90" y1="489.50" x2="156.30" y2="489.50" stroke="#6e6e6e" stroke-width="1.2"/>
<polyline points="53.60,522.30 78.70,508.92 103.90,477.69 129.00,460.11 154.10,419.96" fill="none" stroke="#111111" stroke-width="2.0"/>
<line x1="78.70" y1="512.85" x2="78.70" y2="504.98" stroke="#111111" stroke-width="1.2"/>
<line x1="76.50" y1="504.98" x2="80.90" y2="504.98" stroke="#111111" stroke-width="1.2"/>
<line x1="76.50" y1="512.85" x2="80.90" y2="512.85" stroke="#111111" stroke-width="1.2"/>
<line x1="103.90" y1="486.09" x2="103.90" y2="469.30" stroke="#111111" stroke-width="1.2"/>
<line x1="101.70" y1="469.30" x2="106.10" y2="469.30" stroke="#111111" stroke-width="1.2"/>
<line x1="101.70" y1="486.09" x2="106.10" y2="486.09" stroke="#111111" stroke-width="1.2"/>
<line x1="129.00" y1="470.61" x2="129.00" y2="449.62" stroke="#111111" stroke-width="1.2"/>
<line x1="126.80" y1="449.62" x2="131.20" y2="449.62" stroke="#111111" stroke-width="1.2"/>
<line x1="126.80" y1="470.61" x2="131.20" y2="470.61" stroke="#111111" stroke-width="1.2"/>
<line x1="154.10" y1="442.27" x2="154.10" y2="397.66" stroke="#111111" stroke-width="1.2"/>
<line x1="151.90" y1="397.66" x2="156.30" y2="397.66" stroke="#111111" stroke-width="1.2"/>
<line x1="151.90" y1="442.27" x2="156.30" y2="442.27" stroke="#111111" stroke-width="1.2"/>
<line x1="48.00" y1="403.80" x2="68.30" y2="403.80" stroke="#111" stroke-width="2"/>
<line x1="48.00" y1="414.00" x2="68.30" y2="414.00" stroke="#6e6e6e" stroke-width="1.8"/>
<line x1="48.00" y1="424.00" x2="68.30" y2="424.00" stroke="#d4d4d4" stroke-width="1.8"/>
<text x="73.70" y="406.55" font-size="8" text-anchor="start" fill="#111">pLKO</text>
<text x="73.70" y="416.75" font-size="8" text-anchor="start" fill="#111">sh1</text>
<text x="73.70" y="426.75" font-size="8" text-anchor="start" fill="#111">sh2</text>
<circle cx="162.60" cy="477.00" r="1.05" fill="#111"/>
<circle cx="162.60" cy="500.10" r="1.05" fill="#111"/>
<circle cx="166.10" cy="500.10" r="1.05" fill="#111"/>
<circle cx="169.60" cy="500.10" r="1.05" fill="#111"/>
<text x="53.60" y="534.85" font-size="8" text-anchor="middle" fill="#111">5</text>
<text x="78.70" y="534.85" font-size="8" text-anchor="middle" fill="#111">12</text>
<text x="103.90" y="534.85" font-size="8" text-anchor="middle" fill="#111">15</text>
<text x="129.00" y="534.85" font-size="8" text-anchor="middle" fill="#111">18</text>
<text x="154.10" y="534.85" font-size="8" text-anchor="middle" fill="#111">21</text>
<text x="102.70" y="545.40" font-size="9.0" text-anchor="middle" fill="#111">Days</text>
<text transform="translate(11.46,453.00) rotate(-90)" font-size="9.2" text-anchor="middle" fill="#111">Tumor volume (mm<tspan font-size="6" dy="-3.3">3</tspan><tspan dy="3.3">)</tspan></text>
<text x="191.20" y="356.30" font-size="12.5" text-anchor="start" fill="#000" font-weight="bold">H</text>
<rect x="207.20" y="376.90" width="74.30" height="55.30" fill="#897295"/>
<rect x="207.2" y="376.9" width="74.30" height="55.30" filter="url(#h00d)"/>
<rect x="207.2" y="376.9" width="74.30" height="55.30" filter="url(#h00l)"/>
<rect x="207.70" y="377.40" width="73.30" height="54.30" fill="none" stroke="#1c1c1c" stroke-width="1"/>
<rect x="207.20" y="434.70" width="74.30" height="54.90" fill="#8d7395"/>
<rect x="207.2" y="434.7" width="74.30" height="54.90" filter="url(#h01d)"/>
<rect x="207.2" y="434.7" width="74.30" height="54.90" filter="url(#h01l)"/>
<rect x="207.70" y="435.20" width="73.30" height="53.90" fill="none" stroke="#1c1c1c" stroke-width="1"/>
<rect x="207.20" y="492.70" width="74.30" height="56.30" fill="#977d9e"/>
<rect x="207.2" y="492.7" width="74.30" height="56.30" filter="url(#h02d)"/>
<rect x="207.2" y="492.7" width="74.30" height="56.30" filter="url(#h02l)"/>
<rect x="207.70" y="493.20" width="73.30" height="55.30" fill="none" stroke="#1c1c1c" stroke-width="1"/>
<rect x="282.80" y="376.90" width="73.40" height="55.30" fill="#a1cdf5"/>
<rect x="282.8" y="376.9" width="73.40" height="55.30" filter="url(#h10d)"/>
<rect x="282.8" y="376.9" width="73.40" height="55.30" filter="url(#h10l)"/>
<rect x="283.30" y="377.40" width="72.40" height="54.30" fill="none" stroke="#1c1c1c" stroke-width="1"/>
<rect x="282.80" y="434.70" width="73.40" height="54.90" fill="#a5ccf2"/>
<rect x="282.8" y="434.7" width="73.40" height="54.90" filter="url(#h11d)"/>
<rect x="282.8" y="434.7" width="73.40" height="54.90" filter="url(#h11l)"/>
<rect x="283.30" y="435.20" width="72.40" height="53.90" fill="none" stroke="#1c1c1c" stroke-width="1"/>
<rect x="282.80" y="492.70" width="73.40" height="56.30" fill="#a6ccf1"/>
<rect x="282.8" y="492.7" width="73.40" height="56.30" filter="url(#h12d)"/>
<rect x="282.8" y="492.7" width="73.40" height="56.30" filter="url(#h12l)"/>
<rect x="283.30" y="493.20" width="72.40" height="55.30" fill="none" stroke="#1c1c1c" stroke-width="1"/>
<rect x="357.00" y="376.90" width="73.80" height="55.30" fill="#7aa4e4"/>
<rect x="357.0" y="376.9" width="73.80" height="55.30" filter="url(#h20d)"/>
<rect x="357.0" y="376.9" width="73.80" height="55.30" filter="url(#h20l)"/>
<rect x="357.50" y="377.40" width="72.80" height="54.30" fill="none" stroke="#1c1c1c" stroke-width="1"/>
<rect x="357.00" y="434.70" width="73.80" height="54.90" fill="#92bdef"/>
<rect x="357.0" y="434.7" width="73.80" height="54.90" filter="url(#h21d)"/>
<rect x="357.0" y="434.7" width="73.80" height="54.90" filter="url(#h21l)"/>
<rect x="357.50" y="435.20" width="72.80" height="53.90" fill="none" stroke="#1c1c1c" stroke-width="1"/>
<rect x="357.00" y="492.70" width="73.80" height="56.30" fill="#87ace9"/>
<rect x="357.0" y="492.7" width="73.80" height="56.30" filter="url(#h22d)"/>
<rect x="357.0" y="492.7" width="73.80" height="56.30" filter="url(#h22l)"/>
<rect x="357.50" y="493.20" width="72.80" height="55.30" fill="none" stroke="#1c1c1c" stroke-width="1"/>
<rect x="432.80" y="376.90" width="73.70" height="55.30" fill="#a5b4d5"/>
<rect x="432.8" y="376.9" width="73.70" height="55.30" filter="url(#h30d)"/>
<rect x="432.8" y="376.9" width="73.70" height="55.30" filter="url(#h30l)"/>
<rect x="433.30" y="377.40" width="72.70" height="54.30" fill="none" stroke="#1c1c1c" stroke-width="1"/>
<rect x="432.80" y="434.70" width="73.70" height="54.90" fill="#c3d4f1"/>
<rect x="432.8" y="434.7" width="73.70" height="54.90" filter="url(#h31d)"/>
<rect x="432.8" y="434.7" width="73.70" height="54.90" filter="url(#h31l)"/>
<rect x="433.30" y="435.20" width="72.70" height="53.90" fill="none" stroke="#1c1c1c" stroke-width="1"/>
<rect x="432.80" y="492.70" width="73.70" height="56.30" fill="#c6d7f1"/>
<rect x="432.8" y="492.7" width="73.70" height="56.30" filter="url(#h32d)"/>
<rect x="432.8" y="492.7" width="73.70" height="56.30" filter="url(#h32l)"/>
<rect x="433.30" y="493.20" width="72.70" height="55.30" fill="none" stroke="#1c1c1c" stroke-width="1"/>
<g filter="url(#blur05)">
<ellipse cx="227.0" cy="533.5" rx="2.8" ry="2.3" fill="#d8d0d4" opacity="0.85"/>
<ellipse cx="265.0" cy="544.5" rx="2.2" ry="1.8" fill="#d0c6cc" opacity="0.7"/>
<ellipse cx="374.5" cy="541.0" rx="1.8" ry="1.5" fill="#dce6f6" opacity="0.8"/>
</g>
<text x="246.90" y="372.05" font-size="8" text-anchor="middle" fill="#111">H&amp;E</text>
<text x="318.70" y="372.05" font-size="8" text-anchor="middle" fill="#111">Ki67</text>
<text x="395.10" y="372.15" font-size="8" text-anchor="middle" fill="#111">β-Catenin</text>
<text x="469.20" y="372.05" font-size="8" text-anchor="middle" fill="#111">SOX9</text>
<text transform="translate(202.35,405.90) rotate(-90)" font-size="8" text-anchor="middle" fill="#111">pLKO</text>
<text transform="translate(202.65,462.60) rotate(-90)" font-size="8" text-anchor="middle" fill="#111">sh1</text>
<text transform="translate(202.35,520.60) rotate(-90)" font-size="8" text-anchor="middle" fill="#111">sh2</text>
</g>
</svg>
</div>
</body></html>
